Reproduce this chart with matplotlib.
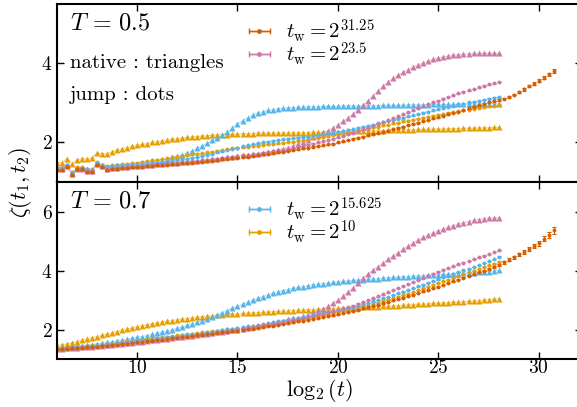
import numpy as np
import matplotlib
matplotlib.use("Agg")
from matplotlib import pyplot as plt

plt.rcParams["font.family"] = "serif"
plt.rcParams["font.serif"] = ["cmr10"]
plt.rcParams["mathtext.fontset"] = "cm"
plt.rcParams["axes.unicode_minus"] = False
plt.rcParams["axes.formatter.use_mathtext"] = True

# Data
#----------------------------------------------------

x_short = np.arange(6, 28.01, 0.25)   # log2(t) samples for tw < 2^31.25
x_long = np.arange(6, 30.76, 0.25)    # log2(t) samples for tw = 2^31.25

TW_LABELS = {"31": r"$t_{\rm w} = 2^{31.25}$", "23": r"$t_{\rm w} = 2^{23.5}$",
             "15": r"$t_{\rm w} = 2^{15.625}$", "10": r"$t_{\rm w} = 2^{10}$"}
COLORS = {"31": "#D55E00", "23": "#CC79A7", "15": "#56B4E9", "10": "#E69F00"}

# T = 0.5, native (triangles)
t05_nat_10 = [1.49, 1.49, 1.58, 1.45, 1.56, 1.59, 1.58, 1.60, 1.73, 1.72, 1.71, 1.76,
              1.81, 1.83, 1.87, 1.90, 1.93, 1.95, 1.97, 2.00, 2.02, 2.04, 2.06, 2.08,
              2.09, 2.11, 2.13, 2.14, 2.15, 2.16, 2.17, 2.18, 2.19, 2.20, 2.20, 2.21,
              2.21, 2.22, 2.22, 2.22, 2.23, 2.23, 2.23, 2.23, 2.24, 2.24, 2.24, 2.24,
              2.25, 2.25, 2.25, 2.26, 2.26, 2.26, 2.27, 2.27, 2.27, 2.28, 2.28, 2.28,
              2.29, 2.29, 2.29, 2.30, 2.30, 2.30, 2.31, 2.31, 2.31, 2.32, 2.32, 2.32,
              2.33, 2.33, 2.33, 2.34, 2.34, 2.34, 2.35, 2.35, 2.35, 2.36, 2.36, 2.36,
              2.37, 2.37, 2.37, 2.38, 2.38]
t05_nat_15 = [1.36, 1.35, 1.43, 1.23, 1.36, 1.36, 1.32, 1.30, 1.49, 1.42, 1.38, 1.41,
              1.42, 1.43, 1.43, 1.44, 1.46, 1.47, 1.49, 1.52, 1.53, 1.56, 1.58, 1.62,
              1.65, 1.69, 1.73, 1.79, 1.85, 1.92, 1.98, 2.05, 2.12, 2.19, 2.26, 2.36,
              2.46, 2.55, 2.62, 2.69, 2.74, 2.78, 2.81, 2.83, 2.85, 2.86, 2.87, 2.88,
              2.89, 2.89, 2.90, 2.90, 2.90, 2.91, 2.91, 2.91, 2.91, 2.92, 2.92, 2.92,
              2.92, 2.93, 2.93, 2.93, 2.93, 2.94, 2.94, 2.94, 2.94, 2.94, 2.95, 2.95,
              2.95, 2.95, 2.95, 2.96, 2.96, 2.96, 2.96, 2.96, 2.97, 2.97, 2.97, 2.97,
              2.97, 2.98, 2.98, 2.98, 2.98]
t05_nat_23 = [1.32, 1.32, 1.41, 1.19, 1.34, 1.34, 1.28, 1.27, 1.45, 1.40, 1.32, 1.36,
              1.36, 1.38, 1.38, 1.40, 1.40, 1.41, 1.43, 1.44, 1.45, 1.46, 1.47, 1.48,
              1.49, 1.50, 1.51, 1.53, 1.53, 1.55, 1.56, 1.58, 1.59, 1.61, 1.62, 1.64,
              1.65, 1.67, 1.68, 1.70, 1.72, 1.74, 1.76, 1.78, 1.81, 1.84, 1.87, 1.91,
              1.96, 2.01, 2.06, 2.13, 2.20, 2.25, 2.30, 2.36, 2.45, 2.53, 2.62, 2.72,
              2.82, 2.94, 3.06, 3.18, 3.30, 3.42, 3.53, 3.62, 3.70, 3.77, 3.84, 3.90,
              3.96, 4.01, 4.06, 4.10, 4.13, 4.16, 4.18, 4.20, 4.22, 4.23, 4.24, 4.25,
              4.25, 4.25, 4.25, 4.25, 4.25]

# T = 0.5, jump (dots)
t05_jmp_10 = [1.36, 1.36, 1.44, 1.25, 1.38, 1.38, 1.34, 1.32, 1.50, 1.44, 1.41, 1.43,
              1.44, 1.45, 1.46, 1.48, 1.49, 1.51, 1.53, 1.55, 1.56, 1.58, 1.60, 1.62,
              1.64, 1.66, 1.68, 1.70, 1.72, 1.73, 1.75, 1.77, 1.79, 1.81, 1.83, 1.85,
              1.86, 1.88, 1.89, 1.91, 1.92, 1.94, 1.95, 1.97, 1.98, 1.99, 2.01, 2.02,
              2.04, 2.06, 2.08, 2.10, 2.12, 2.14, 2.16, 2.19, 2.22, 2.24, 2.26, 2.28,
              2.31, 2.33, 2.35, 2.38, 2.40, 2.43, 2.45, 2.48, 2.50, 2.53, 2.55, 2.58,
              2.60, 2.63, 2.65, 2.68, 2.70, 2.72, 2.75, 2.77, 2.79, 2.81, 2.83, 2.85,
              2.87, 2.89, 2.91, 2.93, 2.95]
t05_jmp_15 = [1.36, 1.35, 1.43, 1.23, 1.36, 1.36, 1.32, 1.30, 1.49, 1.42, 1.38, 1.41,
              1.42, 1.43, 1.43, 1.44, 1.45, 1.46, 1.47, 1.48, 1.49, 1.50, 1.52, 1.53,
              1.55, 1.57, 1.59, 1.61, 1.63, 1.66, 1.69, 1.72, 1.75, 1.78, 1.81, 1.84,
              1.87, 1.90, 1.93, 1.96, 1.98, 2.00, 2.02, 2.04, 2.06, 2.08, 2.09, 2.11,
              2.12, 2.14, 2.15, 2.17, 2.19, 2.21, 2.23, 2.25, 2.27, 2.29, 2.32, 2.34,
              2.37, 2.40, 2.42, 2.45, 2.48, 2.51, 2.54, 2.57, 2.60, 2.63, 2.66, 2.69,
              2.72, 2.75, 2.78, 2.81, 2.84, 2.87, 2.90, 2.93, 2.96, 2.98, 3.01, 3.03,
              3.06, 3.08, 3.11, 3.13, 3.15]
t05_jmp_23 = [1.32, 1.32, 1.41, 1.19, 1.34, 1.34, 1.28, 1.27, 1.45, 1.40, 1.32, 1.36,
              1.36, 1.38, 1.38, 1.40, 1.40, 1.41, 1.43, 1.44, 1.45, 1.46, 1.47, 1.48,
              1.49, 1.50, 1.51, 1.53, 1.53, 1.55, 1.56, 1.58, 1.59, 1.61, 1.62, 1.64,
              1.65, 1.67, 1.68, 1.70, 1.72, 1.74, 1.76, 1.78, 1.80, 1.82, 1.84, 1.86,
              1.89, 1.91, 1.94, 1.97, 2.00, 2.03, 2.06, 2.09, 2.13, 2.17, 2.21, 2.25,
              2.29, 2.33, 2.37, 2.42, 2.47, 2.51, 2.56, 2.61, 2.66, 2.71, 2.76, 2.81,
              2.86, 2.91, 2.96, 3.01, 3.06, 3.11, 3.15, 3.19, 3.24, 3.28, 3.32, 3.35,
              3.39, 3.43, 3.47, 3.50, 3.53]
t05_jmp_31 = [1.30, 1.30, 1.38, 1.17, 1.32, 1.32, 1.26, 1.25, 1.42, 1.37, 1.30, 1.34,
              1.34, 1.35, 1.36, 1.37, 1.38, 1.39, 1.40, 1.41, 1.42, 1.43, 1.44, 1.45,
              1.46, 1.47, 1.48, 1.49, 1.50, 1.51, 1.53, 1.54, 1.55, 1.57, 1.58, 1.60,
              1.61, 1.63, 1.64, 1.66, 1.68, 1.70, 1.71, 1.73, 1.75, 1.77, 1.79, 1.81,
              1.83, 1.85, 1.87, 1.89, 1.91, 1.93, 1.95, 1.97, 2.00, 2.03, 2.06, 2.09,
              2.12, 2.15, 2.18, 2.21, 2.24, 2.27, 2.30, 2.34, 2.37, 2.40, 2.44, 2.47,
              2.50, 2.54, 2.57, 2.61, 2.64, 2.68, 2.71, 2.75, 2.78, 2.82, 2.86, 2.90,
              2.94, 2.98, 3.02, 3.05, 3.08, 3.11, 3.15, 3.21, 3.27, 3.34, 3.42, 3.49,
              3.56, 3.64, 3.72, 3.81]
t05_err_31 = [0.01] * 88 + [0.02, 0.02, 0.02, 0.02, 0.03, 0.03, 0.03, 0.03, 0.04, 0.04, 0.04, 0.05]

# T = 0.7, native (triangles)
t07_nat_10 = [1.46, 1.49, 1.52, 1.56, 1.60, 1.64, 1.68, 1.72, 1.77, 1.81, 1.85, 1.89,
              1.94, 1.98, 2.02, 2.06, 2.10, 2.14, 2.17, 2.20, 2.23, 2.26, 2.29, 2.31,
              2.34, 2.36, 2.38, 2.40, 2.42, 2.44, 2.46, 2.47, 2.49, 2.50, 2.52, 2.53,
              2.54, 2.55, 2.56, 2.57, 2.58, 2.59, 2.60, 2.61, 2.62, 2.63, 2.64, 2.65,
              2.66, 2.67, 2.68, 2.68, 2.69, 2.70, 2.71, 2.71, 2.72, 2.73, 2.74, 2.74,
              2.75, 2.76, 2.77, 2.77, 2.78, 2.79, 2.80, 2.81, 2.82, 2.83, 2.84, 2.85,
              2.86, 2.87, 2.88, 2.89, 2.90, 2.91, 2.92, 2.93, 2.94, 2.95, 2.96, 2.97,
              2.98, 3.00, 3.01, 3.03, 3.05]
t07_nat_15 = [1.37, 1.38, 1.40, 1.42, 1.44, 1.46, 1.48, 1.50, 1.52, 1.54, 1.57, 1.59,
              1.62, 1.65, 1.68, 1.71, 1.74, 1.77, 1.80, 1.84, 1.88, 1.92, 1.96, 2.00,
              2.05, 2.10, 2.15, 2.20, 2.25, 2.31, 2.37, 2.44, 2.51, 2.58, 2.65, 2.72,
              2.79, 2.86, 2.93, 3.00, 3.06, 3.12, 3.18, 3.23, 3.28, 3.32, 3.36, 3.40,
              3.43, 3.46, 3.49, 3.52, 3.54, 3.56, 3.58, 3.60, 3.62, 3.64, 3.65, 3.67,
              3.68, 3.70, 3.71, 3.72, 3.73, 3.75, 3.76, 3.77, 3.78, 3.79, 3.80, 3.81,
              3.82, 3.83, 3.84, 3.85, 3.86, 3.87, 3.88, 3.89, 3.90, 3.91, 3.92, 3.93,
              3.94, 3.96, 3.97, 3.99, 4.01]
t07_nat_23 = [1.35, 1.36, 1.37, 1.38, 1.39, 1.40, 1.41, 1.43, 1.44, 1.46, 1.47, 1.49,
              1.51, 1.53, 1.54, 1.56, 1.58, 1.60, 1.62, 1.64, 1.66, 1.68, 1.70, 1.72,
              1.74, 1.76, 1.78, 1.80, 1.82, 1.84, 1.86, 1.88, 1.91, 1.93, 1.95, 1.98,
              2.00, 2.03, 2.06, 2.09, 2.12, 2.15, 2.18, 2.22, 2.26, 2.30, 2.35, 2.41,
              2.40, 2.45, 2.50, 2.56, 2.63, 2.70, 2.79, 2.89, 3.00, 3.13, 3.27, 3.42,
              3.58, 3.74, 3.89, 4.02, 4.14, 4.26, 4.38, 4.50, 4.61, 4.72, 4.83, 4.94,
              5.04, 5.13, 5.21, 5.28, 5.35, 5.41, 5.47, 5.52, 5.57, 5.62, 5.66, 5.70,
              5.73, 5.75, 5.77, 5.78, 5.78]

# T = 0.7, jump (dots)
t07_jmp_10 = [1.38, 1.39, 1.40, 1.42, 1.43, 1.45, 1.46, 1.48, 1.49, 1.51, 1.53, 1.55,
              1.57, 1.59, 1.61, 1.63, 1.65, 1.67, 1.69, 1.71, 1.73, 1.75, 1.77, 1.79,
              1.81, 1.83, 1.85, 1.87, 1.89, 1.91, 1.93, 1.95, 1.97, 1.99, 2.01, 2.03,
              2.05, 2.07, 2.09, 2.11, 2.14, 2.16, 2.19, 2.21, 2.24, 2.26, 2.29, 2.32,
              2.34, 2.37, 2.40, 2.43, 2.46, 2.49, 2.52, 2.55, 2.60, 2.64, 2.68, 2.72,
              2.76, 2.80, 2.84, 2.88, 2.92, 2.97, 3.02, 3.07, 3.12, 3.17, 3.22, 3.28,
              3.34, 3.40, 3.46, 3.52, 3.58, 3.64, 3.70, 3.76, 3.82, 3.88, 3.94, 4.00,
              4.06, 4.12, 4.18, 4.24, 4.30]
t07_jmp_15 = [1.36, 1.37, 1.38, 1.40, 1.41, 1.43, 1.44, 1.46, 1.47, 1.49, 1.51, 1.53,
              1.55, 1.57, 1.59, 1.61, 1.63, 1.65, 1.67, 1.69, 1.71, 1.73, 1.75, 1.77,
              1.79, 1.81, 1.83, 1.85, 1.87, 1.89, 1.91, 1.94, 1.96, 1.98, 2.01, 2.03,
              2.06, 2.08, 2.11, 2.13, 2.16, 2.19, 2.22, 2.25, 2.28, 2.31, 2.34, 2.37,
              2.40, 2.43, 2.46, 2.49, 2.52, 2.55, 2.58, 2.62, 2.66, 2.70, 2.74, 2.78,
              2.82, 2.86, 2.91, 2.96, 3.01, 3.06, 3.11, 3.17, 3.23, 3.29, 3.35, 3.41,
              3.47, 3.53, 3.59, 3.65, 3.71, 3.77, 3.83, 3.89, 3.95, 4.01, 4.07, 4.13,
              4.19, 4.26, 4.33, 4.40, 4.47]
t07_jmp_23 = [1.35, 1.36, 1.37, 1.38, 1.39, 1.40, 1.41, 1.43, 1.44, 1.46, 1.47, 1.49,
              1.51, 1.53, 1.54, 1.56, 1.58, 1.60, 1.62, 1.64, 1.66, 1.68, 1.70, 1.72,
              1.74, 1.76, 1.78, 1.80, 1.82, 1.84, 1.86, 1.88, 1.91, 1.93, 1.95, 1.98,
              2.00, 2.03, 2.06, 2.09, 2.12, 2.15, 2.18, 2.21, 2.24, 2.27, 2.30, 2.33,
              2.36, 2.39, 2.42, 2.46, 2.50, 2.54, 2.58, 2.62, 2.67, 2.72, 2.77, 2.82,
              2.88, 2.94, 3.00, 3.06, 3.13, 3.20, 3.27, 3.34, 3.41, 3.48, 3.55, 3.62,
              3.69, 3.76, 3.83, 3.90, 3.97, 4.03, 4.09, 4.15, 4.21, 4.27, 4.33, 4.39,
              4.45, 4.51, 4.57, 4.63, 4.69]
t07_jmp_31 = [1.34, 1.35, 1.36, 1.37, 1.38, 1.39, 1.40, 1.42, 1.43, 1.45, 1.46, 1.48,
              1.50, 1.52, 1.53, 1.55, 1.57, 1.59, 1.61, 1.63, 1.65, 1.67, 1.69, 1.71,
              1.73, 1.75, 1.77, 1.79, 1.81, 1.83, 1.85, 1.87, 1.89, 1.91, 1.93, 1.95,
              1.97, 2.00, 2.02, 2.04, 2.07, 2.09, 2.12, 2.14, 2.17, 2.20, 2.22, 2.25,
              2.28, 2.31, 2.34, 2.37, 2.40, 2.43, 2.46, 2.49, 2.52, 2.56, 2.60, 2.64,
              2.68, 2.72, 2.76, 2.80, 2.84, 2.89, 2.94, 2.99, 3.04, 3.09, 3.14, 3.19,
              3.24, 3.30, 3.35, 3.41, 3.46, 3.52, 3.58, 3.64, 3.70, 3.76, 3.82, 3.88,
              3.94, 4.00, 4.06, 4.12, 4.20, 4.28, 4.37, 4.46, 4.55, 4.64, 4.73, 4.82,
              4.93, 5.08, 5.22, 5.37]
t07_err_31 = [0.01] * 84 + [0.02, 0.02, 0.03, 0.03, 0.04, 0.04, 0.05, 0.05, 0.06, 0.06,
                            0.07, 0.07, 0.08, 0.09, 0.10, 0.12]

PANELS = [
    ("0.5", {"10": t05_nat_10, "15": t05_nat_15, "23": t05_nat_23},
     {"10": t05_jmp_10, "15": t05_jmp_15, "23": t05_jmp_23, "31": t05_jmp_31},
     t05_err_31, (1, 5.5), [2, 4], ["31", "23"]),
    ("0.7", {"10": t07_nat_10, "15": t07_nat_15, "23": t07_nat_23},
     {"10": t07_jmp_10, "15": t07_jmp_15, "23": t07_jmp_23, "31": t07_jmp_31},
     t07_err_31, (1, 7), [2, 4, 6], ["15", "10"]),
]


# Plot
#----------------------------------------------------

fig = plt.figure(figsize=(5.77, 4.07), dpi=100)
L = 56.7 / 577
W = (582 - 56.7) / 577
axes = [fig.add_axes([L, 225 / 407, W, 178 / 407]),
        fig.add_axes([L, 47.7 / 407, W, 177.3 / 407])]

for ax, (T, nat, jmp, err31, ylim, yticks, leg) in zip(axes, PANELS):
    for key in ["10", "15", "23", "31"]:
        c = COLORS[key]
        if key in nat:
            ax.plot(x_short, nat[key], "-", color=c, lw=0.8, alpha=0.45)
            ax.plot(x_short, nat[key], "^", color=c, ms=4.2, mec="none")
        y = jmp[key]
        xx = x_long if key == "31" else x_short
        e = err31 if key == "31" else 0.01
        ax.errorbar(xx, y, yerr=e, fmt="o", color=c, ms=2.8, mec="none",
                    elinewidth=0.8, capsize=1.3, capthick=0.8)

    # legend handles: errorbar style with horizontal bar
    handles = []
    for key in leg:
        h = ax.errorbar([np.nan], [np.nan], xerr=[1], fmt="-o", color=COLORS[key],
                        ms=2.5, lw=1.0, capsize=2.0, capthick=1.0)
        handles.append(h)
    ax.legend(handles, [TW_LABELS[k] for k in leg], loc="upper left",
              bbox_to_anchor=(0.33, 1.03), frameon=False, fontsize=15,
              handlelength=1.0, handletextpad=0.8, labelspacing=-0.25)

    ax.text(0.025, 0.89, r"$T\,=\,%s$" % T, transform=ax.transAxes,
            fontsize=17.5, va="center", ha="left")
    ax.set_xlim(6, 32.15)
    ax.set_ylim(*ylim)
    ax.set_yticks(yticks)
    ax.set_xticks([10, 15, 20, 25, 30])
    ax.tick_params(direction="in", top=True, right=True, length=5, width=1,
                   labelsize=14)
    ax.tick_params(axis="y", pad=3)
    ax.tick_params(axis="x", pad=0)
    for s in ax.spines.values():
        s.set_linewidth(1.5)
    ax.spines["right"].set_visible(False)

axes[0].tick_params(labelbottom=False)
axes[0].text(0.025, 0.668, "native : triangles", transform=axes[0].transAxes,
             fontsize=15, va="center", ha="left")
axes[0].text(0.025, 0.49, "jump : dots", transform=axes[0].transAxes,
             fontsize=15, va="center", ha="left")

axes[1].set_xlabel(r"$\log_2(t)$", fontsize=16, labelpad=0)
fig.text(0.036, 0.553, r"$\zeta(t_1, t_2)$", rotation=90, fontsize=16,
         va="center", ha="center")

fig.savefig("out.png", dpi=100)
